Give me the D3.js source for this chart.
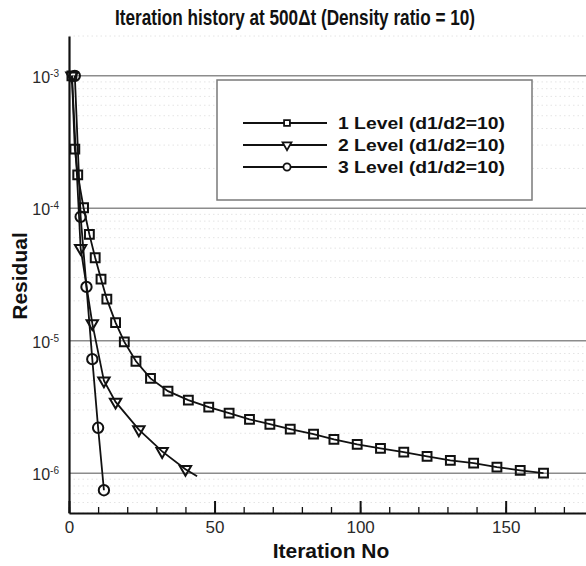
<!DOCTYPE html>
<html>
<head>
<meta charset="utf-8">
<script src="https://cdn.jsdelivr.net/npm/d3@7"></script>
<style>
  html, body { margin: 0; padding: 0; background: #fff; }
  svg { display: block; }
  text { font-family: "Liberation Sans", Arial, Helvetica, sans-serif; }
</style>
</head>
<body>
<svg id="chart" width="586" height="566"></svg>
<script>
// ---------------- data ----------------
const titleText = "Iteration history at 500\u0394t (Density ratio = 10)";
const xLabel = "Iteration No";
const yLabel = "Residual";

const seriesNames = ["1 Level (d1/d2=10)", "2 Level (d1/d2=10)", "3 Level (d1/d2=10)"];

const level1Iter = [1, 2, 3, 5, 7, 9, 11, 13, 16, 19, 23, 28, 34, 41, 48, 55, 62, 69, 76, 84, 91, 99, 107, 115, 123, 131, 139, 147, 155, 163];
const level1Res  = [1.0e-3, 2.8e-4, 1.79e-4, 1.01e-4, 6.35e-5, 4.23e-5, 2.92e-5, 2.06e-5, 1.37e-5, 9.8e-6, 7.0e-6, 5.19e-6, 4.16e-6, 3.56e-6, 3.15e-6, 2.84e-6, 2.55e-6, 2.34e-6, 2.15e-6, 1.97e-6, 1.80e-6, 1.65e-6, 1.54e-6, 1.44e-6, 1.34e-6, 1.25e-6, 1.19e-6, 1.11e-6, 1.05e-6, 1.0e-6];

const level2Iter = [1, 4, 8, 12, 16, 24, 32, 40, 44];
const level2Res  = [1.0e-3, 4.99e-5, 1.35e-5, 4.98e-6, 3.45e-6, 2.13e-6, 1.46e-6, 1.07e-6, 9.46e-7];
const level2UnmarkedTail = 1;   // last point of level 2 has no symbol

const level3Iter = [2, 4, 6, 8, 10, 12];
const level3Res  = [1.0e-3, 8.63e-5, 2.55e-5, 7.26e-6, 2.20e-6, 7.43e-7];

const xMajorTicks = [0, 50, 100, 150];
const xMinorTicks = d3.range(0, 181, 10);
const yMajorTicks = [1e-3, 1e-4, 1e-5, 1e-6];
const yTickExponents = ["-3", "-4", "-5", "-6"];

// ---------------- layout ----------------
const svg = d3.select("#chart");
const W = 586, H = 566;
const plot = { left: 69, top: 36, bottom: 513, right: 593 };

const x = d3.scaleLinear().domain([0, 180]).range([plot.left, plot.right]);
const y = d3.scaleLog().domain([5e-7, 2e-3]).range([plot.bottom, plot.top]);

svg.append("rect").attr("width", W).attr("height", H).attr("fill", "#fff");

// minor dotted grid lines (log minor values)
const minorVals = [];
for (let e = -7; e <= -3; e++) {
  for (let m = 2; m <= 9; m++) {
    const v = m * Math.pow(10, e);
    if (v >= 5e-7 && v <= 2e-3) minorVals.push(v);
  }
}
svg.append("g").selectAll("line").data(minorVals).join("line")
  .attr("x1", plot.left).attr("x2", W)
  .attr("y1", d => y(d)).attr("y2", d => y(d))
  .attr("stroke", "#e4e4e4").attr("stroke-width", 1)
  .attr("stroke-dasharray", "1.5,3");

// major grid lines
svg.append("g").selectAll("line").data(yMajorTicks).join("line")
  .attr("x1", plot.left).attr("x2", W)
  .attr("y1", d => y(d)).attr("y2", d => y(d))
  .attr("stroke", "#8c8c8c").attr("stroke-width", 1.5);

// x axis: minor and major ticks (inward)
const xMinorAxis = d3.axisBottom(x).tickValues(xMinorTicks).tickSize(-6).tickSizeOuter(0).tickFormat("");
const gxm = svg.append("g").attr("transform", `translate(0,${plot.bottom})`).call(xMinorAxis);
gxm.selectAll(".tick line").attr("stroke", "#111").attr("stroke-width", 1.3);
gxm.select(".domain").attr("stroke", "#111").attr("stroke-width", 2.2);

const xMajorAxis = d3.axisBottom(x).tickValues(xMajorTicks).tickSize(-12).tickSizeOuter(0).tickPadding(8);
const gx = svg.append("g").attr("transform", `translate(0,${plot.bottom})`).call(xMajorAxis);
gx.select(".domain").remove();
gx.selectAll(".tick line").attr("stroke", "#111").attr("stroke-width", 2);
gx.selectAll(".tick text")
  .attr("font-size", 17).attr("fill", "#2a2a2a")
  .attr("font-family", "'Liberation Sans', Arial, sans-serif");

// y axis
const yAxis = d3.axisLeft(y).tickValues(yMajorTicks).tickSize(0).tickSizeOuter(0).tickPadding(10);
const gy = svg.append("g").attr("transform", `translate(${plot.left},0)`).call(yAxis);
gy.select(".domain").attr("stroke", "#111").attr("stroke-width", 2.2);
gy.selectAll(".tick text").each(function (d, i) {
  const t = d3.select(this);
  t.text("").attr("font-size", 16).attr("fill", "#2a2a2a").attr("dy", "0.4em")
    .attr("font-family", "'Liberation Sans', Arial, sans-serif");
  t.append("tspan").text("10");
  t.append("tspan").text(yTickExponents[i]).attr("font-size", 10).attr("dy", "-0.6em");
});

// series
const series = [
  { name: seriesNames[0], iter: level1Iter, res: level1Res, sym: d3.symbolSquare, size: 78, rot: 0, lsize: 34, tail: 0 },
  { name: seriesNames[1], iter: level2Iter, res: level2Res, sym: d3.symbolTriangle, size: 56, rot: 180, lsize: 34, tail: level2UnmarkedTail },
  { name: seriesNames[2], iter: level3Iter, res: level3Res, sym: d3.symbolCircle, size: 84, rot: 0, lsize: 40, tail: 0 }
];

const line = d3.line().x(d => x(d[0])).y(d => y(d[1]));

series.forEach(s => {
  const pts = s.iter.map((v, i) => [v, s.res[i]]);
  svg.append("path").datum(pts)
    .attr("fill", "none").attr("stroke", "#111").attr("stroke-width", 1.8)
    .attr("d", line);
});
series.forEach(s => {
  const pts = s.iter.map((v, i) => [v, s.res[i]]);
  const marked = pts.slice(0, pts.length - s.tail);
  svg.append("g").selectAll("path").data(marked).join("path")
    .attr("d", d3.symbol().type(s.sym).size(s.size))
    .attr("transform", d => `translate(${x(d[0])},${y(d[1])}) rotate(${s.rot})`)
    .attr("fill", "none").attr("stroke", "#111").attr("stroke-width", 2);
});

// legend
const lg = svg.append("g");
lg.append("rect").attr("x", 217).attr("y", 80).attr("width", 315).attr("height", 120)
  .attr("fill", "#fff").attr("stroke", "#7a7a7a").attr("stroke-width", 1.5);
const rowY = [123, 145, 167];
series.forEach((s, i) => {
  const ry = rowY[i];
  lg.append("line").attr("x1", 243).attr("x2", 327).attr("y1", ry).attr("y2", ry)
    .attr("stroke", "#111").attr("stroke-width", 1.8);
  lg.append("path").attr("d", d3.symbol().type(s.sym).size(s.lsize))
    .attr("transform", `translate(287,${ry}) rotate(${s.rot})`)
    .attr("fill", "#fff").attr("stroke", "#111").attr("stroke-width", 1.8);
  lg.append("text").attr("x", 338).attr("y", ry + 6).text(s.name)
    .attr("font-size", 17).attr("font-weight", "bold").attr("fill", "#111")
    .attr("textLength", 167).attr("lengthAdjust", "spacingAndGlyphs");
});

// title and axis labels
svg.append("text").attr("x", 295).attr("y", 25).attr("text-anchor", "middle")
  .attr("font-size", 22).attr("font-weight", "bold").attr("fill", "#111")
  .style("font-family", "'Liberation Sans Narrow', 'Arial Narrow', 'Liberation Sans', Arial, sans-serif")
  .attr("textLength", 360).attr("lengthAdjust", "spacingAndGlyphs")
  .text(titleText);

svg.append("text").attr("x", 331).attr("y", 558).attr("text-anchor", "middle")
  .attr("font-size", 21).attr("font-weight", "bold").attr("fill", "#111")
  .text(xLabel);

svg.append("text").attr("transform", "translate(27,276) rotate(-90)").attr("text-anchor", "middle")
  .attr("font-size", 21).attr("font-weight", "bold").attr("fill", "#111")
  .text(yLabel);
</script>
</body>
</html>
